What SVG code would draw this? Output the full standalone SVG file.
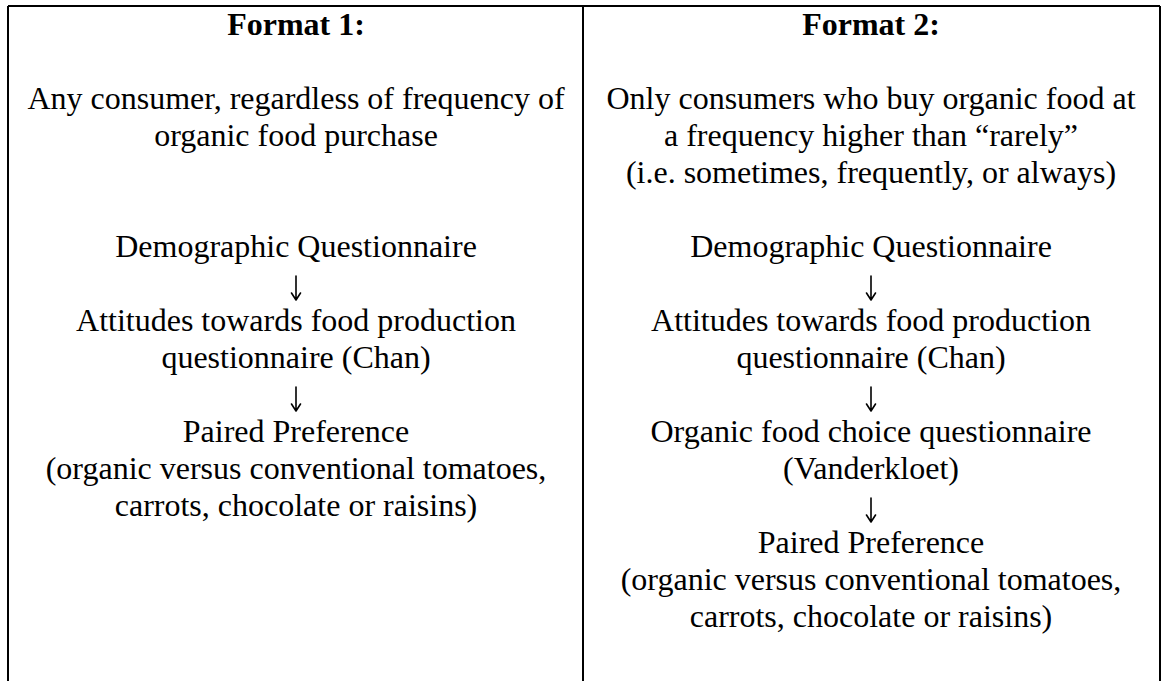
<svg xmlns="http://www.w3.org/2000/svg" width="1161" height="681" viewBox="0 0 1161 681">
<style>
.t{font-family:"Liberation Serif","Times New Roman",serif;font-size:32px;fill:#000;text-anchor:middle}
.h{font-weight:bold}
.b{stroke:#000;stroke-width:2;fill:none}
.a{stroke:#000;stroke-width:1.6;fill:none;stroke-linecap:round;stroke-linejoin:round}
</style>
<defs>
<path id="arrow" class="a" d="M0,-20 V4 M-4.5,-3 L0,4 L4.5,-3"/>
</defs>
<rect width="1161" height="681" fill="#fff"/>
<g id="table">
<line class="b" x1="8" y1="6" x2="1160" y2="6"/>
<line class="b" x1="8" y1="6" x2="8" y2="681"/>
<line class="b" x1="583" y1="6" x2="583" y2="681"/>
<line class="b" x1="1160" y1="6" x2="1160" y2="681"/>
</g>
<g id="format1-header"><text class="t h" x="296" y="35">Format 1:</text></g>
<g id="format1-sample"><text class="t" x="296" y="109">Any consumer, regardless of frequency of</text><text class="t" x="296" y="146">organic food purchase</text></g>
<g id="format1-demographic"><text class="t" x="296" y="257">Demographic Questionnaire</text></g>
<g id="format1-attitudes"><text class="t" x="296" y="331">Attitudes towards food production</text><text class="t" x="296" y="368">questionnaire (Chan)</text></g>
<g id="format1-paired"><text class="t" x="296" y="442">Paired Preference</text><text class="t" x="296" y="479">(organic versus conventional tomatoes,</text><text class="t" x="296" y="516">carrots, chocolate or raisins)</text></g>
<g id="format2-header"><text class="t h" x="871" y="35">Format 2:</text></g>
<g id="format2-sample"><text class="t" x="871" y="109">Only consumers who buy organic food at</text><text class="t" x="871" y="146">a frequency higher than “rarely”</text><text class="t" x="871" y="183">(i.e. sometimes, frequently, or always)</text></g>
<g id="format2-demographic"><text class="t" x="871" y="257">Demographic Questionnaire</text></g>
<g id="format2-attitudes"><text class="t" x="871" y="331">Attitudes towards food production</text><text class="t" x="871" y="368">questionnaire (Chan)</text></g>
<g id="format2-organic"><text class="t" x="871" y="442">Organic food choice questionnaire</text><text class="t" x="871" y="479">(Vanderkloet)</text></g>
<g id="format2-paired"><text class="t" x="871" y="553">Paired Preference</text><text class="t" x="871" y="590">(organic versus conventional tomatoes,</text><text class="t" x="871" y="627">carrots, chocolate or raisins)</text></g>
<g id="connectors">
<use href="#arrow" x="296" y="296"/>
<use href="#arrow" x="296" y="407"/>
<use href="#arrow" x="871" y="296"/>
<use href="#arrow" x="871" y="407"/>
<use href="#arrow" x="871" y="518"/>
</g>
</svg>
